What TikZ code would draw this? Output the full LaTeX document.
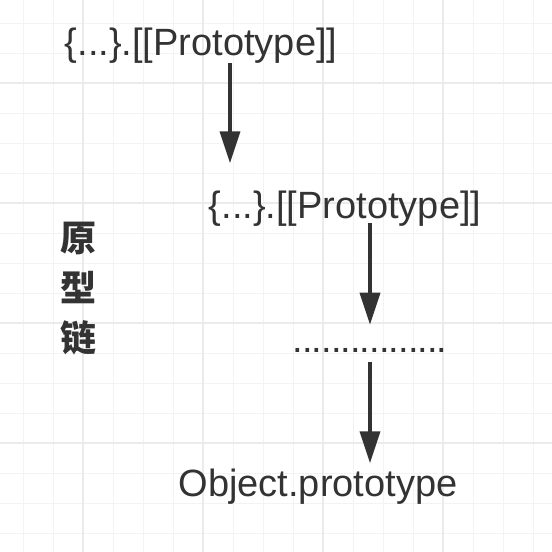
\documentclass[tikz,border=0pt]{standalone}
\usepackage{fontspec}
\setmainfont{Liberation Sans}
\newfontfamily\cjk{Noto Sans CJK SC}
\newfontfamily\dotfont[LetterSpace=-2.5]{Liberation Sans}
\usepackage{tikz}
\usetikzlibrary{arrows.meta,positioning,calc}
\usepackage{xcolor}
\definecolor{ink}{HTML}{333333}
\definecolor{gridminor}{HTML}{F3F3F3}
\definecolor{gridmajor}{HTML}{EBEBEB}

\tikzset{
  chainlabel/.style={inner sep=0pt, anchor=base, text=ink, font=\fontsize{38}{44}\selectfont},
  chainarrow/.style={draw=ink, line width=3.5pt, -{Triangle[length=32pt,width=20pt]}}
}

\begin{document}
\begin{tikzpicture}[x=1pt, y=-1pt]
            % Background grid
            \fill[white] (0,0) rectangle (552,552);
            \useasboundingbox (0,0) rectangle (552,552);
            \foreach \k in {0,...,17} {
                \draw[gridminor, line width=1pt] ({23+30*\k},0) -- ({23+30*\k},552);
                \draw[gridminor, line width=1pt] (0,{23+30*\k}) -- (552,{23+30*\k});
            }
            \foreach \k in {83,203,323,443} {
                \draw[gridmajor, line width=1.5pt] (\k,0) -- (\k,552);
                \draw[gridmajor, line width=1.5pt] (0,\k) -- (552,\k);
            }

            % Chain of prototypes
            \node[chainlabel] (proto1) at (201,55) {\{...\}.[[Prototype]]};
            \node[chainlabel] (proto2) at (345,218) {\{...\}.[[Prototype]]};
            \node[chainlabel, font=\dotfont\fontsize{38}{44}\selectfont] (dots) at (370,352) {................};
            \node[chainlabel] (objproto) at (318,496) {Object.prototype};

            % Side label
            \node[text=ink, align=center, font=\cjk\bfseries\fontsize{36}{50}\selectfont] (title) at (78,289) {原\\型\\链};

            % Connections
            \draw[chainarrow, shorten >=27pt] ([xshift=29pt]proto1.south) -- ([xshift=29pt]proto1.south |- proto2.north);
            \draw[chainarrow, shorten <=-3pt, shorten >=23pt] ([xshift=25pt]proto2.south) -- (dots.north);
            \draw[chainarrow, shorten <=10pt, shorten >=5pt] (dots.south) -- (dots.south |- objproto.north);
        \end{tikzpicture}
\end{document}
